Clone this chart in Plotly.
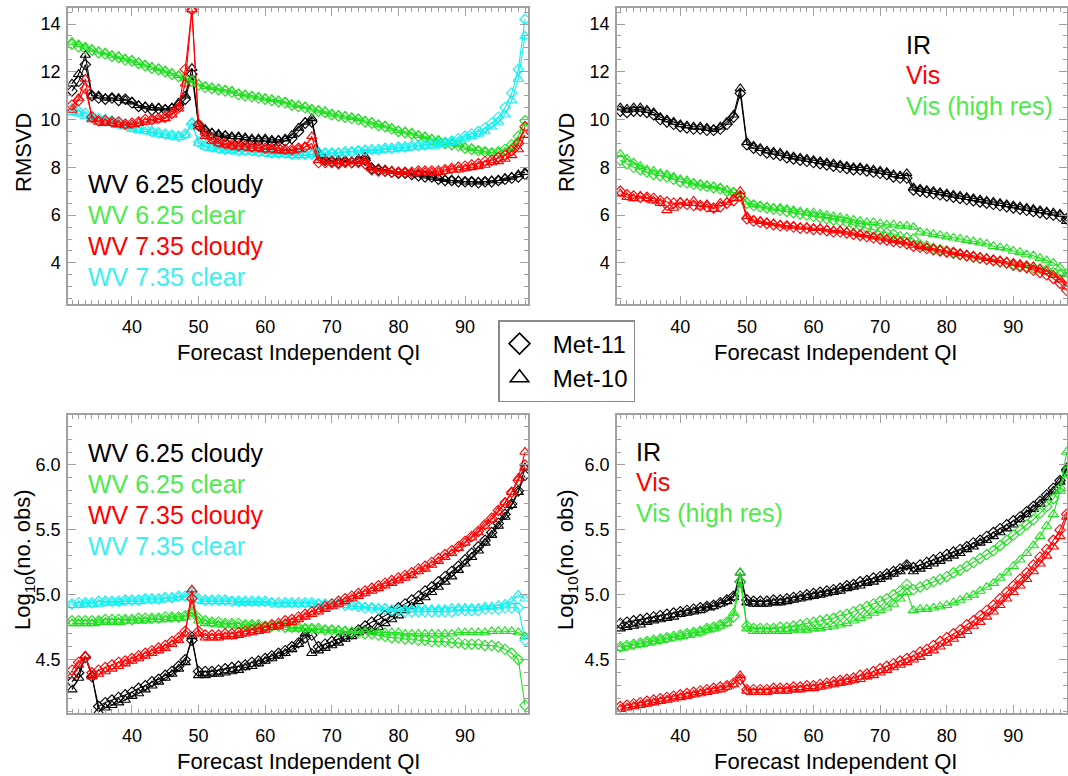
import plotly.graph_objects as go

# ---------------- data ----------------
QI_LEFT = list(range(31, 100))   # 31..99
QI_RIGHT = list(range(31, 99))   # 31..98

# Top-left: RMSVD, WV channels
TL_WV625_CLOUDY_M11 = [11.2,11.6,12.3,11.0,10.9,10.85,10.9,10.8,10.85,10.7,
    10.55,10.5,10.4,10.45,10.4,10.45,10.6,10.85,11.9,9.75,
    9.5,9.4,9.3,9.3,9.2,9.2,9.15,9.1,9.1,9.1,
    9.05,9.1,9.1,9.2,9.5,9.85,9.9,8.55,8.3,8.25,
    8.2,8.25,8.2,8.25,8.3,7.95,7.9,7.85,7.8,7.75,
    7.75,7.7,7.65,7.6,7.6,7.5,7.45,7.45,7.4,7.4,
    7.4,7.35,7.4,7.4,7.45,7.5,7.55,7.6,7.7]
TL_WV625_CLOUDY_M10 = [11.5,11.9,12.7,11.0,11.0,10.9,10.9,10.9,10.8,10.75,
    10.6,10.55,10.5,10.5,10.45,10.5,10.7,11.0,12.15,9.8,
    9.6,9.45,9.4,9.35,9.3,9.3,9.25,9.2,9.2,9.2,
    9.15,9.15,9.2,9.35,9.65,9.9,10.05,8.65,8.35,8.3,
    8.3,8.3,8.25,8.35,8.45,8.0,7.95,7.9,7.85,7.8,
    7.8,7.75,7.7,7.65,7.6,7.55,7.5,7.45,7.45,7.4,
    7.4,7.4,7.4,7.45,7.45,7.55,7.6,7.7,7.8]
TL_WV625_CLEAR_M11 = [13.15,13.05,12.95,12.9,12.8,12.75,12.65,12.6,12.5,12.45,
    12.35,12.25,12.15,12.1,12.0,11.9,11.8,11.7,11.6,11.45,
    11.35,11.3,11.25,11.2,11.15,11.05,11.0,10.95,10.9,10.85,
    10.8,10.75,10.7,10.6,10.55,10.5,10.4,10.35,10.3,10.2,
    10.15,10.1,10.05,10.0,9.9,9.85,9.75,9.7,9.6,9.5,
    9.45,9.4,9.3,9.25,9.15,9.1,9.0,8.95,8.9,8.8,
    8.75,8.7,8.65,8.6,8.65,8.75,8.95,9.3,9.95]
TL_WV625_CLEAR_M10 = [13.25,13.15,13.05,12.95,12.85,12.8,12.7,12.65,12.55,12.5,
    12.4,12.3,12.2,12.15,12.05,11.95,11.85,11.75,11.65,11.5,
    11.4,11.35,11.3,11.25,11.2,11.1,11.05,11.0,10.95,10.9,
    10.85,10.8,10.75,10.65,10.6,10.55,10.45,10.4,10.35,10.25,
    10.2,10.15,10.1,10.05,9.95,9.9,9.8,9.75,9.65,9.55,
    9.5,9.45,9.35,9.3,9.2,9.15,9.05,9.0,8.95,8.85,
    8.8,8.7,8.65,8.6,8.6,8.65,8.8,9.1,9.65]
TL_WV735_CLOUDY_M11 = [10.6,10.8,11.3,10.1,9.95,9.95,9.9,9.9,9.8,9.85,
    9.9,10.0,10.0,10.05,10.1,10.25,10.5,12.1,14.6,9.8,
    9.4,9.2,9.05,9.0,8.95,8.9,8.9,8.85,8.85,8.8,
    8.8,8.8,8.75,8.75,8.8,8.85,9.0,8.2,8.2,8.2,
    8.15,8.2,8.2,8.2,8.15,7.9,7.85,7.85,7.8,7.8,
    7.8,7.8,7.85,7.85,7.85,7.85,7.9,7.95,8.0,8.05,
    8.1,8.15,8.25,8.3,8.4,8.5,8.7,9.0,9.7]
TL_WV735_CLOUDY_M10 = [10.4,10.9,11.7,10.0,9.9,9.85,9.85,9.8,9.75,9.8,
    9.85,9.9,9.95,10.0,10.05,10.2,10.45,11.5,14.6,9.7,
    9.3,9.1,9.0,8.95,8.9,8.85,8.85,8.8,8.8,8.75,
    8.75,8.7,8.7,8.7,8.75,8.85,9.3,8.3,8.25,8.25,
    8.2,8.2,8.25,8.25,8.3,7.95,7.9,7.85,7.85,7.8,
    7.8,7.75,7.8,7.8,7.8,7.8,7.85,7.9,7.9,7.95,
    8.0,8.05,8.1,8.2,8.25,8.35,8.5,8.75,9.35]
TL_WV735_CLEAR_M11 = [10.45,10.35,10.25,10.15,10.05,10.0,9.95,9.85,9.8,9.7,
    9.65,9.6,9.5,9.45,9.4,9.35,9.3,9.4,9.8,9.05,
    8.9,8.85,8.8,8.75,8.75,8.7,8.7,8.7,8.65,8.65,
    8.6,8.6,8.6,8.55,8.55,8.55,8.55,8.6,8.6,8.6,
    8.6,8.65,8.65,8.7,8.7,8.75,8.75,8.8,8.8,8.85,
    8.85,8.9,8.9,8.95,9.0,9.0,9.05,9.1,9.2,9.3,
    9.4,9.5,9.65,9.85,10.1,10.5,11.1,12.1,14.2]
TL_WV735_CLEAR_M10 = [10.3,10.25,10.15,10.05,9.95,9.9,9.85,9.75,9.7,9.6,
    9.55,9.5,9.45,9.4,9.35,9.3,9.25,9.35,9.9,9.0,
    8.85,8.8,8.75,8.7,8.7,8.65,8.65,8.65,8.6,8.6,
    8.55,8.55,8.55,8.5,8.5,8.5,8.55,8.55,8.6,8.6,
    8.6,8.6,8.65,8.7,8.75,8.7,8.7,8.75,8.75,8.8,
    8.8,8.85,8.85,8.9,8.9,8.95,9.0,9.05,9.1,9.2,
    9.3,9.4,9.5,9.7,9.9,10.2,10.8,11.7,13.5]

# Top-right: RMSVD, IR / Vis
TR_IR_M11 = [10.35,10.3,10.35,10.35,10.3,10.2,10.0,9.9,9.8,9.7,
    9.65,9.6,9.6,9.55,9.55,9.6,9.8,10.1,11.1,8.95,
    8.8,8.7,8.6,8.55,8.5,8.4,8.35,8.3,8.25,8.2,
    8.15,8.1,8.05,8.0,7.95,7.9,7.9,7.85,7.8,7.75,
    7.7,7.6,7.55,7.55,7.05,7.0,6.95,6.9,6.85,6.8,
    6.75,6.7,6.65,6.6,6.55,6.5,6.45,6.4,6.35,6.3,
    6.25,6.2,6.15,6.1,6.05,6.0,5.95,5.85]
TR_IR_M10 = [10.5,10.45,10.5,10.5,10.4,10.3,10.1,10.0,9.9,9.8,
    9.75,9.7,9.7,9.65,9.6,9.7,9.9,10.2,11.3,9.05,
    8.9,8.8,8.7,8.65,8.6,8.5,8.45,8.4,8.35,8.3,
    8.25,8.2,8.15,8.1,8.05,8.0,8.0,7.95,7.9,7.85,
    7.8,7.7,7.65,7.75,7.15,7.1,7.05,7.0,6.95,6.9,
    6.85,6.8,6.75,6.7,6.65,6.6,6.55,6.5,6.45,6.4,
    6.35,6.3,6.25,6.2,6.15,6.1,6.05,5.75]
TR_VIS_M11 = [7.0,6.85,6.8,6.75,6.75,6.7,6.6,6.55,6.5,6.5,
    6.45,6.4,6.4,6.35,6.3,6.35,6.5,6.6,6.8,5.85,
    5.75,5.7,5.65,5.6,5.55,5.55,5.5,5.45,5.45,5.4,
    5.4,5.35,5.3,5.3,5.25,5.2,5.15,5.1,5.05,5.0,
    4.95,4.9,4.85,4.8,4.7,4.65,4.6,4.55,4.5,4.45,
    4.4,4.35,4.3,4.25,4.2,4.15,4.1,4.05,4.0,3.9,
    3.85,3.8,3.7,3.6,3.5,3.35,3.15,2.85]
TR_VIS_M10 = [6.9,6.75,6.7,6.8,6.7,6.6,6.5,6.2,6.3,6.55,
    6.5,6.6,6.35,6.45,6.25,6.5,6.55,6.7,7.0,5.95,
    5.8,5.75,5.7,5.65,5.6,5.55,5.55,5.5,5.5,5.45,
    5.45,5.4,5.35,5.35,5.3,5.25,5.2,5.15,5.1,5.05,
    5.0,4.95,4.9,4.85,4.75,4.7,4.65,4.6,4.55,4.5,
    4.45,4.4,4.35,4.3,4.25,4.2,4.15,4.1,4.05,4.0,
    3.95,3.9,3.85,3.75,3.65,3.5,3.3,3.0]
TR_VISHR_M11 = [8.3,8.15,8.0,7.9,7.8,7.7,7.65,7.6,7.5,7.4,
    7.35,7.3,7.25,7.2,7.15,7.1,7.0,6.95,6.8,6.5,
    6.4,6.35,6.3,6.25,6.2,6.15,6.1,6.05,6.0,5.95,
    5.9,5.85,5.8,5.75,5.7,5.6,5.55,5.45,5.4,5.3,
    5.25,5.2,5.1,5.05,5.0,4.75,4.7,4.6,4.55,4.5,
    4.45,4.35,4.3,4.25,4.2,4.15,4.1,4.05,4.0,3.95,
    3.9,3.85,3.8,3.75,3.7,3.6,3.5,3.4]
TR_VISHR_M10 = [8.55,8.35,8.2,8.05,7.9,7.85,7.75,7.7,7.6,7.5,
    7.45,7.35,7.3,7.25,7.2,7.15,7.05,6.95,6.85,6.55,
    6.45,6.4,6.35,6.3,6.3,6.25,6.2,6.15,6.1,6.1,
    6.05,6.0,5.95,5.9,5.85,5.8,5.75,5.7,5.7,5.65,
    5.6,5.6,5.55,5.55,5.5,5.3,5.25,5.2,5.15,5.1,
    5.05,5.0,4.95,4.9,4.85,4.8,4.7,4.65,4.6,4.5,
    4.45,4.35,4.3,4.2,4.1,4.0,3.8,3.55]

# Bottom-left: log10(no. obs), WV channels
BL_WV625_CLOUDY_M11 = [4.33,4.4,4.52,4.37,4.14,4.17,4.19,4.21,4.23,4.25,
    4.28,4.3,4.33,4.35,4.38,4.41,4.45,4.5,4.65,4.41,
    4.41,4.41,4.42,4.43,4.44,4.45,4.46,4.48,4.49,4.51,
    4.53,4.55,4.57,4.6,4.63,4.67,4.69,4.6,4.62,4.64,
    4.66,4.68,4.7,4.73,4.76,4.79,4.81,4.84,4.87,4.9,
    4.93,4.96,4.99,5.03,5.06,5.1,5.14,5.18,5.22,5.27,
    5.32,5.37,5.42,5.48,5.55,5.62,5.7,5.8,5.92]
BL_WV625_CLOUDY_M10 = [4.27,4.36,4.53,4.38,4.1,4.13,4.15,4.17,4.19,4.22,
    4.24,4.27,4.3,4.33,4.36,4.39,4.43,4.48,4.68,4.38,
    4.38,4.39,4.39,4.4,4.41,4.42,4.44,4.45,4.47,4.49,
    4.51,4.53,4.55,4.58,4.62,4.7,4.55,4.57,4.59,4.61,
    4.63,4.66,4.68,4.71,4.73,4.72,4.75,4.78,4.81,4.84,
    4.88,4.91,4.95,4.98,5.02,5.06,5.1,5.14,5.19,5.24,
    5.29,5.34,5.4,5.46,5.53,5.6,5.69,5.79,5.98]
BL_WV625_CLEAR_M11 = [4.8,4.8,4.8,4.8,4.8,4.81,4.81,4.81,4.81,4.81,
    4.82,4.82,4.82,4.82,4.83,4.83,4.83,4.84,4.87,4.82,
    4.8,4.79,4.79,4.78,4.78,4.78,4.77,4.77,4.77,4.76,
    4.76,4.76,4.75,4.75,4.75,4.74,4.74,4.74,4.73,4.73,
    4.72,4.72,4.71,4.71,4.7,4.7,4.69,4.68,4.67,4.67,
    4.66,4.66,4.65,4.65,4.64,4.64,4.64,4.63,4.63,4.62,
    4.62,4.62,4.61,4.61,4.6,4.58,4.55,4.5,4.15]
BL_WV625_CLEAR_M10 = [4.78,4.78,4.78,4.78,4.79,4.79,4.79,4.79,4.8,4.8,
    4.8,4.8,4.81,4.81,4.81,4.82,4.82,4.83,4.86,4.8,
    4.78,4.78,4.77,4.77,4.77,4.76,4.76,4.76,4.76,4.75,
    4.75,4.75,4.75,4.74,4.74,4.74,4.74,4.73,4.73,4.73,
    4.73,4.72,4.72,4.72,4.72,4.71,4.71,4.71,4.71,4.71,
    4.7,4.7,4.7,4.7,4.7,4.7,4.7,4.7,4.71,4.71,
    4.71,4.71,4.71,4.72,4.72,4.72,4.72,4.71,4.68]
BL_WV735_CLOUDY_M11 = [4.42,4.48,4.52,4.4,4.42,4.44,4.46,4.48,4.49,4.51,
    4.53,4.55,4.57,4.59,4.61,4.64,4.67,4.72,4.97,4.72,
    4.69,4.69,4.69,4.7,4.7,4.71,4.72,4.73,4.74,4.75,
    4.77,4.78,4.8,4.81,4.83,4.85,4.87,4.89,4.91,4.93,
    4.95,4.97,4.99,5.01,5.03,5.05,5.07,5.09,5.11,5.13,
    5.15,5.17,5.2,5.22,5.25,5.28,5.31,5.34,5.37,5.41,
    5.45,5.49,5.54,5.59,5.65,5.71,5.79,5.88,6.0]
BL_WV735_CLOUDY_M10 = [4.38,4.46,4.53,4.37,4.39,4.41,4.43,4.45,4.47,4.49,
    4.51,4.53,4.55,4.57,4.59,4.62,4.65,4.7,5.04,4.7,
    4.67,4.67,4.67,4.68,4.68,4.69,4.7,4.71,4.72,4.73,
    4.75,4.76,4.78,4.79,4.81,4.83,4.85,4.87,4.89,4.91,
    4.93,4.95,4.97,4.99,5.01,5.03,5.05,5.07,5.09,5.11,
    5.13,5.15,5.18,5.2,5.23,5.26,5.29,5.32,5.36,5.4,
    5.44,5.48,5.53,5.58,5.64,5.71,5.79,5.9,6.1]
BL_WV735_CLEAR_M11 = [4.93,4.94,4.94,4.94,4.95,4.95,4.95,4.95,4.96,4.96,
    4.96,4.97,4.97,4.97,4.98,4.98,4.99,4.99,5.02,4.97,
    4.96,4.96,4.96,4.96,4.95,4.95,4.95,4.95,4.95,4.95,
    4.94,4.94,4.94,4.94,4.94,4.94,4.94,4.93,4.93,4.93,
    4.93,4.92,4.92,4.91,4.9,4.9,4.89,4.89,4.88,4.88,
    4.87,4.87,4.87,4.87,4.87,4.87,4.87,4.87,4.88,4.88,
    4.88,4.88,4.89,4.89,4.89,4.9,4.9,4.9,4.65]
BL_WV735_CLEAR_M10 = [4.92,4.92,4.93,4.93,4.93,4.94,4.94,4.94,4.95,4.95,
    4.95,4.96,4.96,4.96,4.97,4.97,4.98,4.98,5.03,4.96,
    4.95,4.95,4.95,4.95,4.95,4.94,4.94,4.94,4.94,4.94,
    4.94,4.93,4.93,4.93,4.93,4.93,4.93,4.93,4.93,4.92,
    4.92,4.92,4.91,4.91,4.91,4.9,4.9,4.9,4.89,4.89,
    4.89,4.89,4.89,4.89,4.89,4.89,4.89,4.9,4.9,4.9,
    4.9,4.9,4.91,4.91,4.92,4.93,4.95,5.0,4.97]

# Bottom-right: log10(no. obs), IR / Vis
BR_IR_M11 = [4.78,4.79,4.8,4.81,4.82,4.83,4.84,4.85,4.86,4.87,
    4.88,4.89,4.9,4.91,4.92,4.94,4.96,4.99,5.1,4.96,
    4.95,4.95,4.95,4.96,4.96,4.97,4.98,4.99,5.0,5.01,
    5.02,5.03,5.04,5.05,5.07,5.08,5.1,5.11,5.13,5.14,
    5.16,5.18,5.2,5.23,5.21,5.23,5.25,5.27,5.29,5.31,
    5.33,5.35,5.37,5.4,5.42,5.45,5.48,5.51,5.54,5.57,
    5.6,5.64,5.68,5.72,5.77,5.82,5.88,5.96]
BR_IR_M10 = [4.74,4.75,4.76,4.77,4.79,4.8,4.81,4.82,4.83,4.85,
    4.86,4.87,4.88,4.9,4.91,4.93,4.95,4.98,5.17,4.94,
    4.93,4.93,4.93,4.94,4.94,4.95,4.96,4.97,4.98,4.99,
    5.0,5.01,5.02,5.03,5.05,5.06,5.07,5.09,5.1,5.12,
    5.14,5.16,5.18,5.22,5.18,5.2,5.22,5.24,5.26,5.28,
    5.3,5.32,5.35,5.37,5.4,5.42,5.45,5.48,5.51,5.54,
    5.58,5.62,5.66,5.7,5.75,5.8,5.87,5.98]
BR_VIS_M11 = [4.14,4.15,4.16,4.17,4.18,4.19,4.2,4.21,4.22,4.23,
    4.24,4.25,4.26,4.27,4.28,4.29,4.3,4.32,4.35,4.27,
    4.27,4.27,4.27,4.28,4.28,4.28,4.29,4.29,4.3,4.3,
    4.31,4.32,4.33,4.34,4.35,4.36,4.38,4.39,4.41,4.43,
    4.45,4.47,4.49,4.51,4.53,4.56,4.58,4.61,4.64,4.67,
    4.7,4.73,4.77,4.8,4.84,4.88,4.92,4.97,5.02,5.07,
    5.12,5.17,5.23,5.29,5.35,5.42,5.5,5.62]
BR_VIS_M10 = [4.12,4.13,4.14,4.15,4.16,4.17,4.18,4.19,4.2,4.21,
    4.22,4.23,4.24,4.25,4.26,4.27,4.29,4.31,4.38,4.26,
    4.25,4.25,4.25,4.26,4.26,4.26,4.27,4.27,4.28,4.28,
    4.29,4.3,4.31,4.32,4.33,4.34,4.35,4.37,4.38,4.4,
    4.42,4.44,4.46,4.48,4.5,4.52,4.55,4.57,4.6,4.63,
    4.66,4.69,4.72,4.76,4.79,4.83,4.87,4.92,4.97,5.02,
    5.07,5.12,5.18,5.24,5.3,5.37,5.45,5.6]
BR_VISHR_M11 = [4.6,4.61,4.62,4.63,4.64,4.65,4.66,4.67,4.68,4.69,
    4.7,4.71,4.72,4.74,4.75,4.77,4.79,4.83,5.1,4.76,
    4.74,4.74,4.74,4.74,4.75,4.75,4.76,4.77,4.78,4.79,
    4.8,4.81,4.82,4.84,4.85,4.87,4.89,4.91,4.93,4.95,
    4.97,5.0,5.03,5.08,5.04,5.06,5.08,5.1,5.12,5.14,
    5.17,5.19,5.22,5.25,5.28,5.31,5.34,5.38,5.42,5.46,
    5.5,5.54,5.58,5.63,5.68,5.74,5.82,5.95]
BR_VISHR_M10 = [4.59,4.6,4.61,4.62,4.63,4.64,4.65,4.66,4.67,4.68,
    4.69,4.7,4.71,4.73,4.74,4.76,4.78,4.86,5.17,4.74,
    4.72,4.72,4.72,4.72,4.72,4.72,4.73,4.73,4.73,4.74,
    4.74,4.75,4.76,4.77,4.78,4.8,4.82,4.84,4.86,4.88,
    4.9,4.93,4.97,5.02,4.88,4.89,4.89,4.9,4.91,4.92,
    4.94,4.96,4.98,5.0,5.03,5.06,5.09,5.13,5.17,5.22,
    5.27,5.32,5.38,5.45,5.53,5.62,5.8,6.1]

LABELS_WV = ["WV 6.25 cloudy", "WV 6.25 clear", "WV 7.35 cloudy", "WV 7.35 clear"]
LABELS_IRVIS = ["IR", "Vis", "Vis (high res)"]
SAT_LABELS = ["Met-11", "Met-10"]
X_TITLE = "Forecast Independent QI"

# ---------------- style ----------------
W, H = 1068, 776
FONT = "Liberation Sans, Arial, Helvetica, sans-serif"
C_BLACK, C_GREEN, C_RED, C_CYAN = "#000000", "#1fe01f", "#ff0000", "#10f0f0"
T_GREEN, T_CYAN = "#4ceb4c", "#3af0f0"
AXC = "#a0a0a0"


def px(x):
    return x / W


def py(y):
    return 1 - y / H


fig = go.Figure()

panels = {
    1: dict(x=QI_LEFT, series=[
        (TL_WV625_CLOUDY_M11, TL_WV625_CLOUDY_M10, C_BLACK),
        (TL_WV625_CLEAR_M11, TL_WV625_CLEAR_M10, C_GREEN),
        (TL_WV735_CLEAR_M11, TL_WV735_CLEAR_M10, C_CYAN),
        (TL_WV735_CLOUDY_M11, TL_WV735_CLOUDY_M10, C_RED)]),
    2: dict(x=QI_RIGHT, series=[
        (TR_IR_M11, TR_IR_M10, C_BLACK),
        (TR_VISHR_M11, TR_VISHR_M10, C_GREEN),
        (TR_VIS_M11, TR_VIS_M10, C_RED)]),
    3: dict(x=QI_LEFT, series=[
        (BL_WV625_CLOUDY_M11, BL_WV625_CLOUDY_M10, C_BLACK),
        (BL_WV625_CLEAR_M11, BL_WV625_CLEAR_M10, C_GREEN),
        (BL_WV735_CLEAR_M11, BL_WV735_CLEAR_M10, C_CYAN),
        (BL_WV735_CLOUDY_M11, BL_WV735_CLOUDY_M10, C_RED)]),
    4: dict(x=QI_RIGHT, series=[
        (BR_IR_M11, BR_IR_M10, C_BLACK),
        (BR_VISHR_M11, BR_VISHR_M10, C_GREEN),
        (BR_VIS_M11, BR_VIS_M10, C_RED)]),
}

for k, p in panels.items():
    xa = "x" if k == 1 else f"x{k}"
    ya = "y" if k == 1 else f"y{k}"
    for m11, m10, col in p["series"]:
        fig.add_trace(go.Scatter(
            x=p["x"], y=m10, xaxis=xa, yaxis=ya, mode="lines+markers",
            line=dict(color=col, width=1.1),
            marker=dict(symbol="triangle-up-open", size=9, color=col, line=dict(width=1.1, color=col)),
            showlegend=False, hoverinfo="skip"))
        fig.add_trace(go.Scatter(
            x=p["x"], y=m11, xaxis=xa, yaxis=ya, mode="lines+markers",
            line=dict(color=col, width=1.1),
            marker=dict(symbol="diamond-open", size=8, color=col, line=dict(width=1.1, color=col)),
            showlegend=False, hoverinfo="skip"))

# legend entries (symbols only)
for name, sym in zip(SAT_LABELS, ["diamond-open", "triangle-up-open"]):
    fig.add_trace(go.Scatter(
        x=[None], y=[None], mode="markers", name="\u00a0\u00a0" + name,
        marker=dict(symbol=sym, size=16, color="black", line=dict(width=1.6, color="black")),
        showlegend=True))

# ---------------- axes ----------------
dom_x_left = [px(68), px(528)]
dom_x_right = [px(617), px(1067)]
dom_y_top = [py(304), py(8)]
dom_y_bot = [py(713), py(415)]


def xaxis(domain, rng, anchor):
    return dict(domain=domain, range=rng, anchor=anchor, tick0=0, dtick=10,
                ticks="inside", ticklen=8, tickwidth=1, tickcolor=AXC,
                showline=True, linecolor=AXC, linewidth=1.5, mirror="allticks",
                showgrid=False, zeroline=False,
                tickfont=dict(family=FONT, size=18, color="black"),
                ticklabelstandoff=6,
                minor=dict(dtick=1, ticks="inside", ticklen=4, tickcolor=AXC, showgrid=False))


def yaxis(domain, rng, anchor, dtick, mdtick, fmt):
    return dict(domain=domain, range=rng, anchor=anchor, tick0=0, dtick=dtick,
                tickformat=fmt,
                ticks="inside", ticklen=8, tickwidth=1, tickcolor=AXC,
                showline=True, linecolor=AXC, linewidth=1.5, mirror="allticks",
                showgrid=False, zeroline=False,
                tickfont=dict(family=FONT, size=18, color="black"),
                ticklabelstandoff=2,
                minor=dict(dtick=mdtick, ticks="inside", ticklen=4, tickcolor=AXC, showgrid=False))


XR_LEFT = [30.4, 99.45]
XR_RIGHT = [30.5, 98.05]
YR_TOP = [2.28, 14.67]
YR_BOT = [4.09, 6.385]

fig.update_layout(
    xaxis=xaxis(dom_x_left, XR_LEFT, "y"),
    yaxis=yaxis(dom_y_top, YR_TOP, "x", 2, 0.5, "d"),
    xaxis2=xaxis(dom_x_right, XR_RIGHT, "y2"),
    yaxis2=yaxis(dom_y_top, YR_TOP, "x2", 2, 0.5, "d"),
    xaxis3=xaxis(dom_x_left, XR_LEFT, "y3"),
    yaxis3=yaxis(dom_y_bot, YR_BOT, "x3", 0.5, 0.1, ".1f"),
    xaxis4=xaxis(dom_x_right, XR_RIGHT, "y4"),
    yaxis4=yaxis(dom_y_bot, YR_BOT, "x4", 0.5, 0.1, ".1f"),
)

# ---------------- annotations ----------------
ann = []


def text(x, y, s, color="black", size=25, xanchor="left", angle=0):
    ann.append(dict(x=px(x), y=py(y), xref="paper", yref="paper", text=s,
                    showarrow=False, xanchor=xanchor, yanchor="middle", textangle=angle,
                    font=dict(family=FONT, size=size, color=color)))


wv_colors = ["black", T_GREEN, C_RED, T_CYAN]
for i, (lab, col) in enumerate(zip(LABELS_WV, wv_colors)):
    text(86, 183.5 + 31 * i, lab, col)
    text(86, 453 + 31 * i, lab, col)

ir_colors = ["black", C_RED, T_GREEN]
for i, (lab, col) in enumerate(zip(LABELS_IRVIS, ir_colors)):
    text(904, 45 + 30.5 * i, lab, col)
    text(634, 451.5 + 30.5 * i, lab, col)

for cx, cy in [(298, 353), (835, 353), (298, 761), (835, 761)]:
    text(cx, cy, X_TITLE, size=22, xanchor="center")

text(24, 153, "RMSVD", size=22, xanchor="center", angle=-90)
text(567, 153, "RMSVD", size=22, xanchor="center", angle=-90)
text(24, 560, "Log<sub>10</sub>(no. obs)", size=22, xanchor="center", angle=-90)
text(567, 560, "Log<sub>10</sub>(no. obs)", size=22, xanchor="center", angle=-90)

fig.update_layout(
    annotations=ann,
    width=W, height=H,
    margin=dict(l=0, r=0, t=0, b=0),
    paper_bgcolor="white", plot_bgcolor="white",
    showlegend=True,
    legend=dict(x=px(498), y=py(320), xanchor="left", yanchor="top",
                bordercolor="#8a8a8a", borderwidth=1.5, bgcolor="white",
                font=dict(family=FONT, size=24, color="black"),
                itemsizing="trace"),
)

fig.write_html("out.html")
